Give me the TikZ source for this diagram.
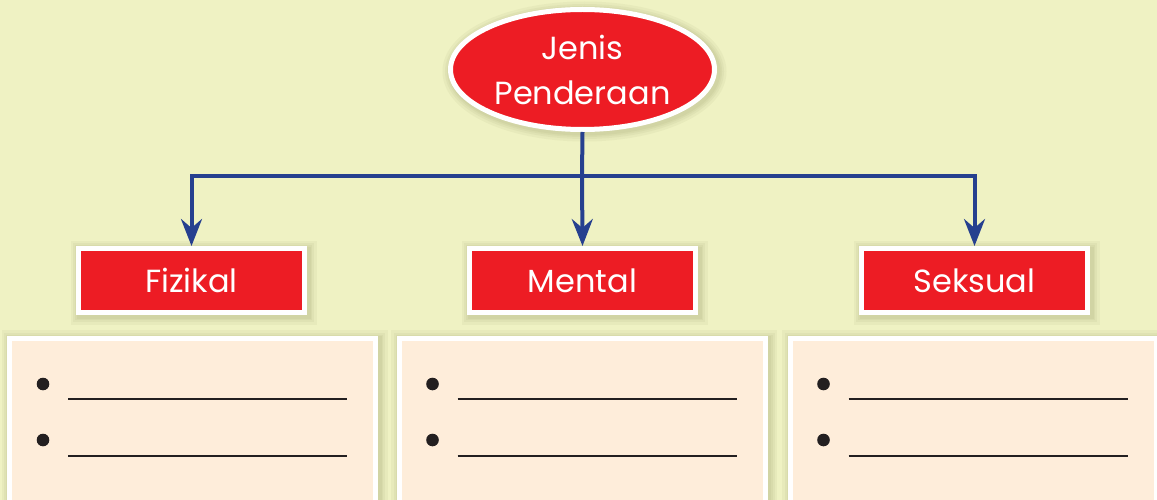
\documentclass[tikz,border=0pt]{standalone}
\usepackage{fontspec}
\setmainfont{Poppins}
\usetikzlibrary{arrows.meta,shapes.geometric}
\definecolor{bgc}{RGB}{239,242,195}
\definecolor{redc}{RGB}{237,28,36}
\definecolor{bluec}{RGB}{38,64,143}
\definecolor{peachc}{RGB}{254,237,218}
\definecolor{inkc}{RGB}{35,31,32}
\definecolor{shadc}{RGB}{90,95,40}
\tikzset{
  shadelayer/.style={preaction={draw=shadc, draw opacity=0.05, line width=#1, transform canvas={shift={(2pt,-2pt)}}}},
  softshadow/.style={shadelayer=20pt, shadelayer=15pt, shadelayer=11pt, shadelayer=8pt},
  rootshape/.style={ellipse, fill=redc, draw=white, line width=5pt, minimum width=264pt, minimum height=120pt, inner sep=0pt, align=center, text=white, font=\fontsize{32}{45}\selectfont, softshadow},
  catbox/.style={rectangle, fill=redc, draw=white, line width=5pt, minimum width=226pt, minimum height=64pt, inner sep=0pt, text=white, font=\fontsize{32}{40}\selectfont, softshadow},
  panel/.style={rectangle, fill=peachc, draw=white, line width=5pt, minimum width=366pt, minimum height=220pt, inner sep=0pt, anchor=north, softshadow},
  conn/.style={draw=bluec, line width=4pt},
  arr/.style={conn, -{Stealth[length=27pt, width=21pt, inset=9pt]}},
  writeline/.style={draw=inkc, line width=1.8pt},
  bulletdot/.style={fill=inkc}
}
\begin{document}
\begin{tikzpicture}[x=1pt,y=-1pt]
\useasboundingbox (0,0) rectangle (1157,500);
\clip (0,0) rectangle (1157,500);
\fill[bgc] (0,0) rectangle (1157,500);
% panels
\node[panel] (pfiz) at (192.5,335.5) {};
\node[panel] (pmen) at (582,335.5) {};
\node[panel] (psek) at (973,335.5) {};
% bullets and writing lines
\foreach \p in {pfiz,pmen,psek}{
  \fill[bulletdot] ([xshift=36pt,yshift=-48.5pt]\p.north west) circle (6.3pt);
  \fill[bulletdot] ([xshift=36pt,yshift=-104.5pt]\p.north west) circle (6.3pt);
  \draw[writeline] ([xshift=61pt,yshift=-63.5pt]\p.north west) -- ([xshift=340pt,yshift=-63.5pt]\p.north west);
  \draw[writeline] ([xshift=61pt,yshift=-120.5pt]\p.north west) -- ([xshift=340pt,yshift=-120.5pt]\p.north west);
}
% category boxes
\node[catbox] (fiz) at (191.5,280.5) {Fizikal};
\node[catbox] (men) at (582.5,280.5) {Mental};
\node[catbox] (sek) at (974.5,280.5) {Seksual};
% root
\node[rootshape] (root) at (582.5,69.5) {Jenis\\Penderaan};
% connectors
\coordinate (j) at (582,176);
\draw[conn] (root.south) -- (j);
\draw[arr] (j) -| (fiz.north);
\draw[arr] (j) -- (men.north);
\draw[arr] (j) -| (sek.north);
\end{tikzpicture}
\end{document}
